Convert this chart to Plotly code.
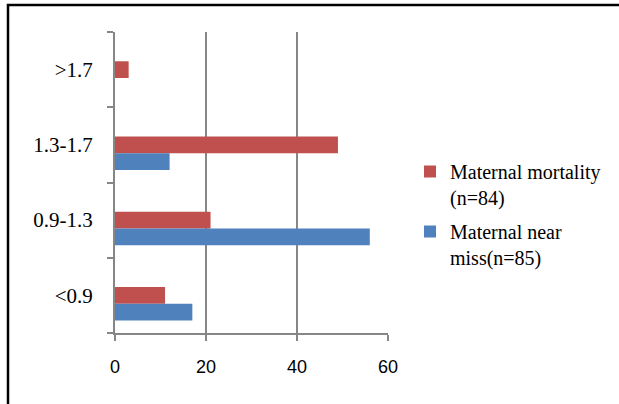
import plotly.graph_objects as go

# Serum value ranges (bottom to top on the category axis)
categories = ["<0.9", "0.9-1.3", "1.3-1.7", ">1.7"]
mortality = [11, 21, 49, 3]      # Maternal mortality (n=84)
near_miss = [17, 56, 12, 0]      # Maternal near miss (n=85)
x_ticks = [0, 20, 40, 60]

RED = "#C0504D"
BLUE = "#4F81BD"
AXIS_GRAY = "#868686"
BAR_W = 2 / 9

fig = go.Figure()
fig.add_trace(go.Bar(
    y=categories, x=mortality, orientation="h",
    name="Maternal mortality<br>(n=84)", legendgroup="mm",
    marker=dict(color=RED, line=dict(width=0)),
    width=BAR_W, offset=-BAR_W / 2,
))
fig.add_trace(go.Bar(
    y=categories, x=near_miss, orientation="h",
    name="Maternal near<br>miss(n=85)", legendgroup="nm",
    marker=dict(color=BLUE, line=dict(width=0)),
    width=BAR_W, offset=-1.5 * BAR_W,
))

# Outer frame: top and left rules
L, R, T, B = 115, 231, 32, 71
W, H = 619, 404
pw, ph = W - L - R, H - T - B


def px_x(p):
    return (p - L) / pw


def px_y(p):
    return (H - B - p) / ph


fig.add_shape(type="path", xref="paper", yref="paper",
              path=f"M {px_x(8)} {px_y(410)} L {px_x(8)} {px_y(5)} L {px_x(625)} {px_y(5)}",
              line=dict(color="black", width=2.5))

fig.update_layout(
    width=W, height=H,
    margin=dict(l=L, r=R, t=T, b=B),
    paper_bgcolor="white", plot_bgcolor="white",
    barmode="overlay",
    showlegend=True,
    legend=dict(
        x=px_x(410), y=px_y(152), xanchor="left", yanchor="top",
        font=dict(family="Liberation Serif", size=20, color="black"),
        valign="top", bgcolor="rgba(0,0,0,0)", tracegroupgap=5,
    ),
    xaxis=dict(
        range=[0, 60], tickvals=x_ticks, ticktext=[str(v) for v in x_ticks],
        showline=True, linecolor=AXIS_GRAY, linewidth=2,
        showgrid=True, gridcolor=AXIS_GRAY, gridwidth=1.5, zeroline=False,
        ticks="outside", ticklen=6, tickwidth=2, tickcolor=AXIS_GRAY,
        ticklabelstandoff=10,
        tickfont=dict(family="Liberation Sans", size=18, color="black"),
        fixedrange=True,
    ),
    yaxis=dict(
        type="category", categoryorder="array", categoryarray=categories,
        range=[-0.5, 3.5],
        showline=True, linecolor=AXIS_GRAY, linewidth=2,
        showgrid=False, zeroline=False,
        ticks="outside", ticklen=6, tickwidth=2, tickcolor=AXIS_GRAY,
        tickson="boundaries", ticklabelstandoff=16,
        tickfont=dict(family="Liberation Serif", size=21, color="black"),
        fixedrange=True,
    ),
)

fig.write_html("out.html")
